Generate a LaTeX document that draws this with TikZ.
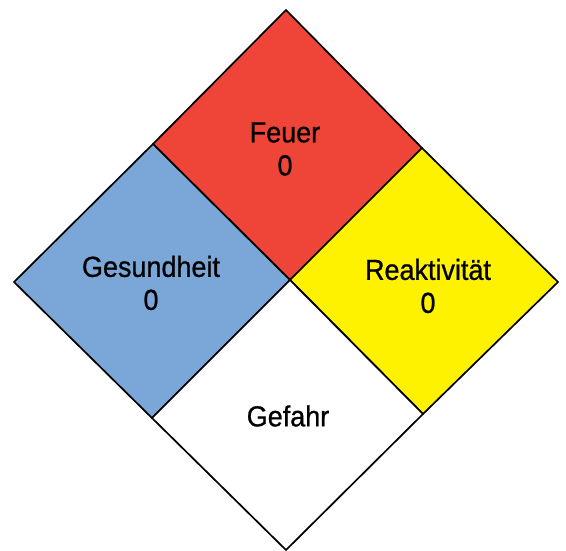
\documentclass[tikz,border=0pt]{standalone}
\usepackage{fontspec}
\setmainfont{Liberation Sans}[FakeStretch=0.93,FakeBold=0.8]
\definecolor{firered}{RGB}{239,68,56}
\definecolor{healthblue}{RGB}{123,167,216}
\definecolor{reactyellow}{RGB}{255,242,0}
\begin{document}
\begin{tikzpicture}[x=1pt,y=-1pt,line width=1.7pt,line join=miter,
    hazardtext/.style={align=center,inner sep=0pt,font=\fontsize{29}{33}\selectfont}]
    \useasboundingbox (0,0) rectangle (566,551);
    %% corners of the diamond
    \coordinate (top) at (286,10);
    \coordinate (upleft) at (153,144);
    \coordinate (upright) at (422,148);
    \coordinate (left) at (14,282);
    \coordinate (centre) at (290,280);
    \coordinate (right) at (558,282);
    \coordinate (lowleft) at (152,418);
    \coordinate (lowright) at (423,414);
    \coordinate (bottom) at (286,550);
    %% fire
    \draw[fill=firered] (top) -- (upright) -- (centre) -- (upleft) -- cycle;
    %% health
    \draw[fill=healthblue] (upleft) -- (centre) -- (lowleft) -- (left) -- cycle;
    %% reactivity
    \draw[fill=reactyellow] (upright) -- (right) -- (lowright) -- (centre) -- cycle;
    %% special
    \draw[fill=white] (centre) -- (lowright) -- (bottom) -- (lowleft) -- cycle;
    %% labels
    \node[hazardtext] (feuer) at (285,149) {Feuer\\0};
    \node[hazardtext] (gesundheit) at (151,283) {Gesundheit\\0};
    \node[hazardtext] (reaktivitaet) at (428,286) {Reaktivität\\0};
    \node[hazardtext] (gefahr) at (288,416) {Gefahr};
\end{tikzpicture}
\end{document}
